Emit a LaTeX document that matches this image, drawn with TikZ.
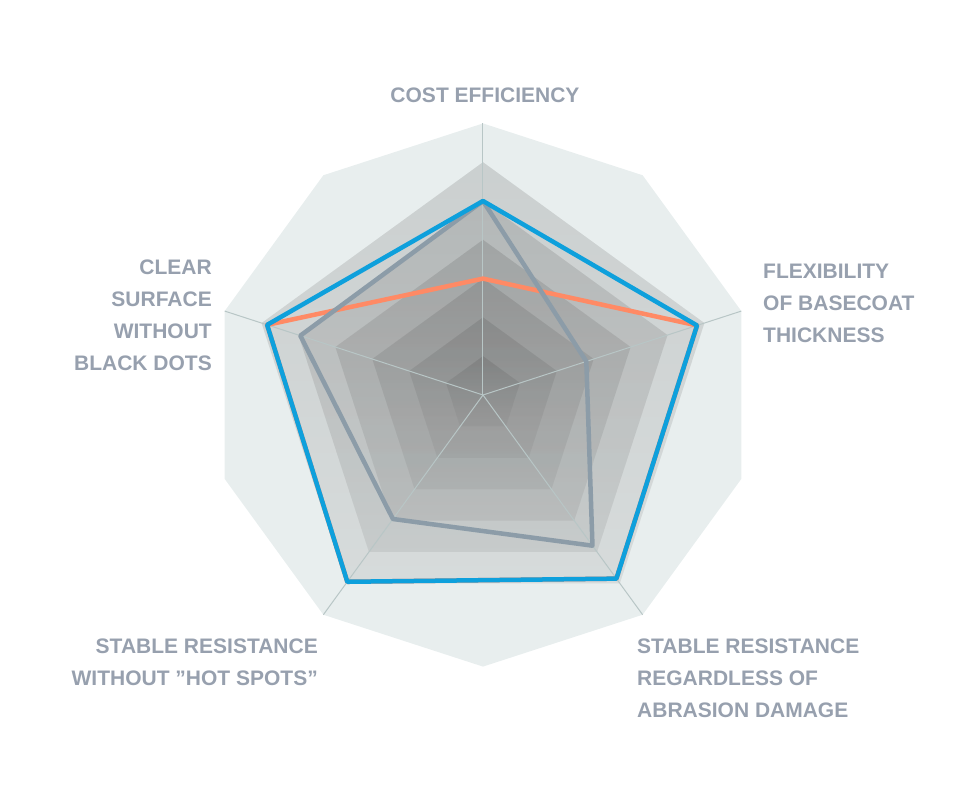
\documentclass[tikz,border=0pt]{standalone}
\usepackage{fontspec}
\setsansfont{Liberation Sans}
\usetikzlibrary{positioning}
\definecolor{ringfill}{HTML}{E8EEEE}
\definecolor{shade}{HTML}{6F8C94}
\definecolor{axisline}{HTML}{B8C6C6}
\definecolor{labelgray}{HTML}{97A0AE}
\definecolor{seriesblue}{HTML}{0EA0DC}
\definecolor{seriesorange}{HTML}{FF8A65}
\definecolor{seriesgray}{HTML}{8C9CA8}

\begin{document}
\begin{tikzpicture}[x=1pt,y=1pt,font=\sffamily\bfseries\fontsize{21}{32}\selectfont]
        % Setup the styles
        \tikzset{axis label/.style={text=labelgray, inner sep=0pt},
                 series/.style={line width=4.5pt, line join=round}}
        \def\unit{38.8}

        \useasboundingbox (-483,-393) rectangle (473,395);

        % Background decagon and shaded rings
        \fill[ringfill] (90:7*\unit) \foreach \a in {126,162,...,414} {-- (\a:7*\unit)} -- cycle;
        \foreach \k in {6,...,1}
            \fill[shade, fill opacity=0.09] (90:\k*\unit) -- (162:\k*\unit) -- (234:\k*\unit)
                -- (306:\k*\unit) -- (18:\k*\unit) -- cycle;
        \foreach \a in {90,162,234,306,18}
            \draw[axisline, line width=1pt] (0,0) -- (\a:7*\unit);

        % Draw the series
        \draw[series, seriesorange] (90:3*\unit) -- (162:5.85*\unit) -- (234:5.95*\unit)
            -- (306:5.85*\unit) -- (18:5.8*\unit) -- cycle;
        \draw[series, seriesgray] (90:5*\unit) -- (162:4.95*\unit) -- (234:3.95*\unit)
            -- (306:4.8*\unit) -- (18:2.8*\unit) -- cycle;
        \draw[series, seriesblue] (90:5*\unit) -- (162:5.85*\unit) -- (234:5.95*\unit)
            -- (306:5.85*\unit) -- (18:5.8*\unit) -- cycle;

        % Labels
        \node[axis label] (cost) at (2,300) {COST EFFICIENCY};
        \node[axis label, anchor=north west, align=left] (flex) at (280,131) {FLEXIBILITY\\OF BASECOAT\\THICKNESS};
        \node[axis label, anchor=north west, align=left] (abrasion) at (154,-244) {STABLE RESISTANCE\\REGARDLESS OF\\ABRASION DAMAGE};
        \node[axis label, anchor=north east, align=right] (hotspots) at (-165,-244) {STABLE RESISTANCE\\WITHOUT "HOT SPOTS"};
        \node[axis label, anchor=north east, align=right] (surface) at (-271,135) {CLEAR\\SURFACE\\WITHOUT\\BLACK DOTS};
\end{tikzpicture}
\end{document}
